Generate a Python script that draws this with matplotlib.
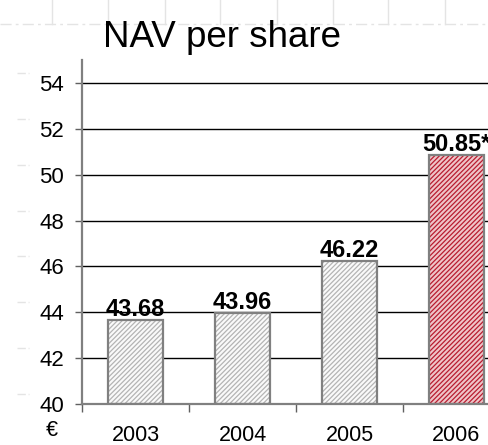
import matplotlib
matplotlib.use("Agg")
import matplotlib.pyplot as plt
from matplotlib.lines import Line2D

years = ['2003', '2004', '2005', '2006']
values = [43.68, 43.96, 46.22, 50.85]
value_labels = ['43.68', '43.96', '46.22', '50.85*']
yticks = [40, 42, 44, 46, 48, 50, 52, 54]
hatch_colors = ['#b4b4b4', '#b4b4b4', '#b4b4b4', '#b81c30']
face_colors = ['#fafafa', '#fafafa', '#fafafa', '#efc4c8']

plt.rcParams['font.family'] = ['Liberation Sans', 'DejaVu Sans']
plt.rcParams['hatch.linewidth'] = 0.9

fig = plt.figure(figsize=(4.88, 4.45), dpi=100)

# faint slide-template marks
W, H = 488, 445
def fline(x0, y0, x1, y1, **kw):
    fig.add_artist(Line2D([x0 / W, x1 / W], [1 - y0 / H, 1 - y1 / H],
                          transform=fig.transFigure, color='#e4e4e4', lw=1, **kw))
fline(0, 24, 488, 24, ls=(0, (8, 3, 2, 3)))
for vx in [52, 108, 165, 220, 277, 333, 388, 445]:
    fline(vx, 0, vx, 24)

ax = fig.add_axes([82 / W, 1 - 404 / H, (510 - 82) / W, (404 - 60) / H])
ax.set_xlim(-0.5, 3.5)
ax.set_ylim(40, 55)

for yv in yticks:
    ypix = 404 - (yv - 40) * (404 - 60) / 15 - 10
    fline(17, ypix, 29, ypix, ls=(0, (6, 2)))

ax.set_yticks(yticks)
ax.yaxis.grid(True, color='black', lw=1)
ax.set_axisbelow(True)

x = list(range(len(years)))
ax.bar(x, [v - 40 for v in values], bottom=40, width=0.51, color=face_colors,
       hatch='/' * 7, edgecolor=hatch_colors, linewidth=0, zorder=2)
ax.bar(x, [v - 40 for v in values], bottom=40, width=0.51, fill=False,
       edgecolor='#808080', linewidth=1.6, zorder=3)

for xi, v, lab in zip(x, values, value_labels):
    ax.text(xi, v + 0.17, lab, ha='center', va='baseline', fontsize=17,
            fontweight='bold', color='black', zorder=4)

for s in ['top', 'right']:
    ax.spines[s].set_visible(False)
for s in ['left', 'bottom']:
    ax.spines[s].set_color('#808080')
    ax.spines[s].set_linewidth(1.6)

ax.set_xticks(x)
ax.set_xticklabels(years, fontsize=15.5)
ax.set_xticks([-0.5, 0.5, 1.5, 2.5], minor=True)
ax.tick_params(axis='x', which='major', length=0, pad=15)
ax.tick_params(axis='x', which='minor', length=6, color='#606060', width=1)
ax.tick_params(axis='y', length=5, color='#606060', width=1, labelsize=16, pad=8)

fig.text(52 / W, 1 - 431 / H, '€', fontsize=15.5, ha='center', va='center')
fig.text(103 / W, 1 - 47 / H, 'NAV per share', fontsize=26.5, ha='left', va='baseline')

fig.savefig('out.png', dpi=100)
